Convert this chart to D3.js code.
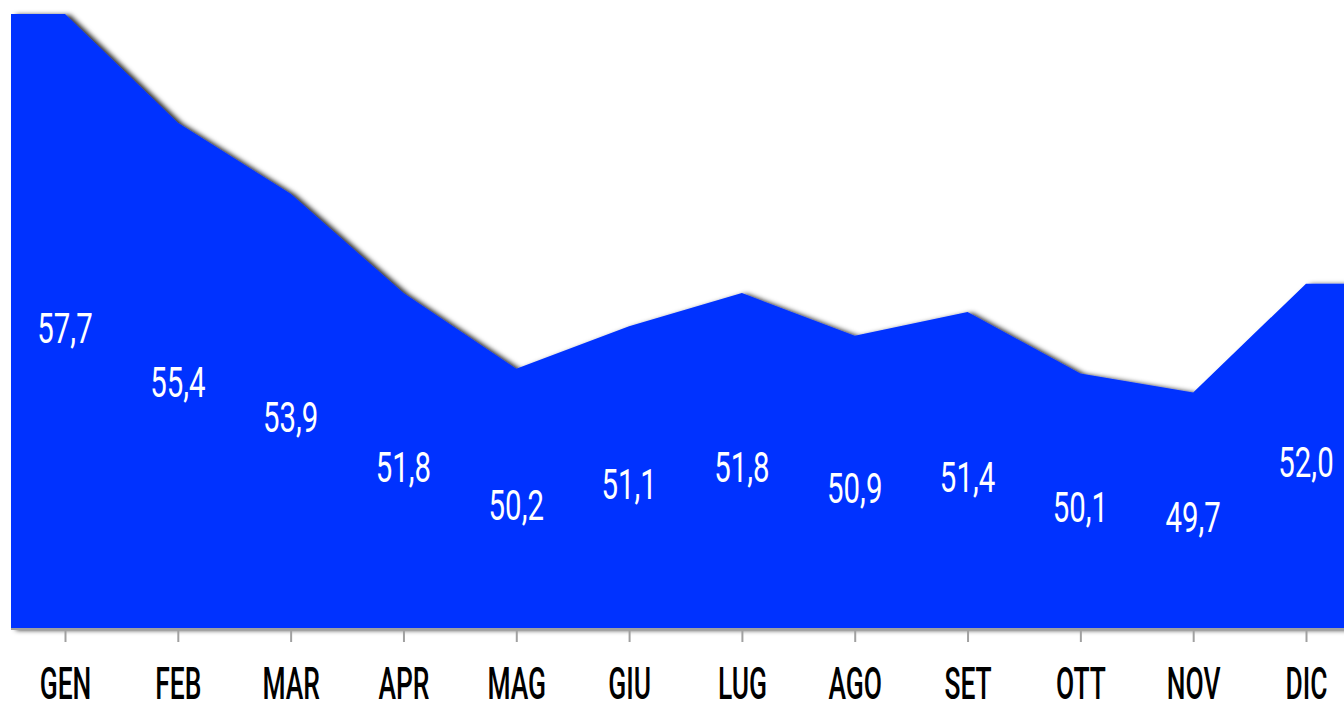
<!DOCTYPE html>
<html>
<head>
<meta charset="utf-8">
<script src="https://cdn.jsdelivr.net/npm/d3@7"></script>
<style>
  body { margin: 0; background: #fff; }
  svg { display: block; }
  .val { font-family: Roboto, "Noto Sans", sans-serif; fill: #fff; }
  .tick text { font-family: Roboto, "Noto Sans", sans-serif; fill: #000; }
</style>
</head>
<body>
<div id="chart"></div>
<script>
var months = ["GEN", "FEB", "MAR", "APR", "MAG", "GIU", "LUG", "AGO", "SET", "OTT", "NOV", "DIC"];
var values = [57.7, 55.4, 53.9, 51.8, 50.2, 51.1, 51.8, 50.9, 51.4, 50.1, 49.7, 52.0];

var w = 1344, h = 702;
var base = 629, left = 11;

var svg = d3.select("#chart").append("svg")
  .attr("width", w)
  .attr("height", h);

var f = svg.append("defs").append("filter").attr("id", "shadow")
  .attr("x", "-5%").attr("y", "-5%").attr("width", "110%").attr("height", "110%");
f.append("feDropShadow")
  .attr("dx", 5).attr("dy", 1)
  .attr("stdDeviation", 2.5)
  .attr("flood-color", "#000")
  .attr("flood-opacity", 0.85);

var xScale = d3.scalePoint()
  .domain(months)
  .range([65, 1306]);

var yScale = d3.scaleLinear()
  .domain([d3.min(values) - 5, d3.max(values)])
  .range([base, 14]);

// points, with flat extensions to the edges
var pts = values.map(function(d, i) { return [xScale(months[i]), yScale(d)]; });
pts.unshift([left, yScale(values[0])]);
pts.push([w + 20, yScale(values[values.length - 1])]);

var area = d3.area()
  .x(function(d) { return d[0]; })
  .y0(base)
  .y1(function(d) { return d[1]; });

svg.append("path")
  .datum(pts)
  .attr("d", area)
  .attr("fill", "#0433ff")
  .attr("filter", "url(#shadow)");

svg.selectAll("g.val")
  .data(values)
  .enter()
  .append("g")
  .attr("transform", function(d, i) {
    return "translate(" + xScale(months[i]) + "," + ((yScale(d) + base) / 2 + 21) + ") scale(0.7,1)";
  })
  .append("text")
  .attr("class", "val")
  .text(function(d) { return d.toFixed(1).replace(".", ","); })
  .attr("text-anchor", "middle")
  .attr("font-size", "42px");

var axis = svg.append("g")
  .attr("transform", "translate(0," + base + ")")
  .call(d3.axisBottom(xScale).tickSize(13).tickSizeOuter(0));

axis.select(".domain").remove();
axis.selectAll(".tick line").attr("stroke", "#a0a0a0").attr("stroke-width", 2);
axis.selectAll(".tick text")
  .attr("y", 70)
  .attr("dy", null)
  .attr("font-size", "44px")
  .attr("font-weight", 500)
  .attr("transform", "scale(0.6,1)");

svg.append("line")
  .attr("x1", left).attr("x2", w)
  .attr("y1", base).attr("y2", base)
  .attr("stroke", "#a0a0a0")
  .attr("stroke-width", 2);
</script>
</body>
</html>
